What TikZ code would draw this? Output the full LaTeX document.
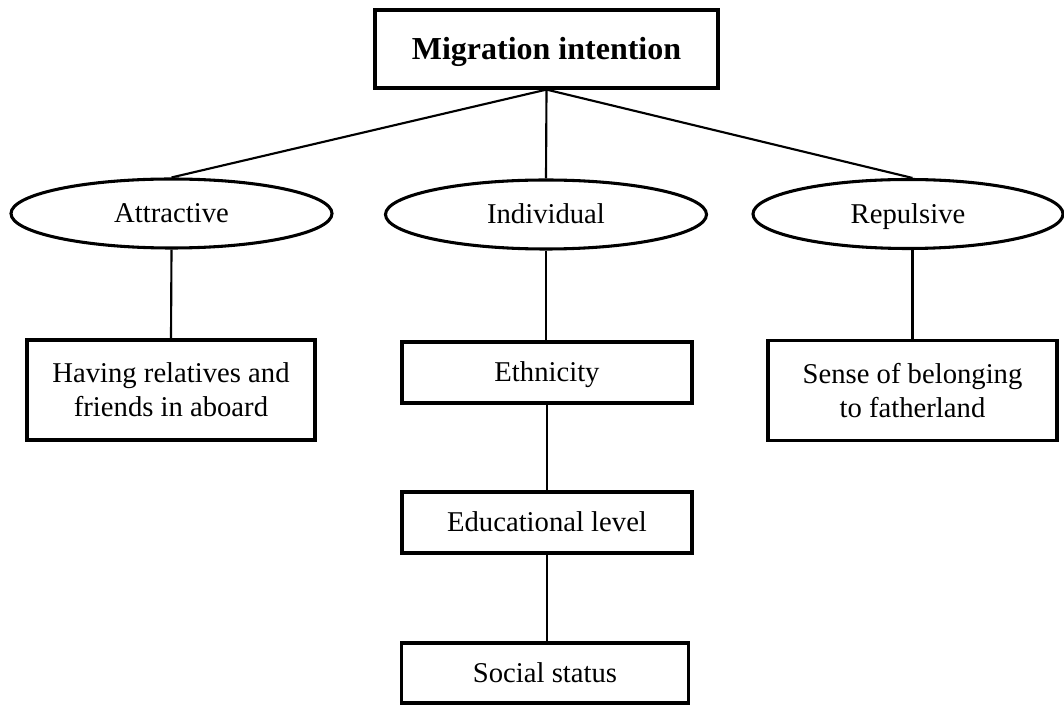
\documentclass[tikz,border=0pt]{standalone}
\usepackage{fontspec}
\setmainfont{Liberation Serif}
\usetikzlibrary{shapes.geometric}
\begin{document}
\begin{tikzpicture}[x=0.75pt,y=-0.75pt,
  every node/.style={font=\fontsize{21.5}{25.5}\selectfont, align=center, inner sep=0pt},
  oneline/.style={text height=16pt, text depth=1.8pt},
  boxnode/.style={draw, line width=2.4pt, rectangle},
  ellnode/.style={draw, line width=2.3pt, ellipse, oneline, minimum width=240.75pt, minimum height=51.75pt},
  conn/.style={line width=1.6pt}]
\useasboundingbox (0,0) rectangle (1064,705);
\node[boxnode, text height=18pt, text depth=2.1pt, minimum width=257.25pt, minimum height=58.5pt, font=\fontsize{24}{28}\selectfont\bfseries] (top) at (546.5,49) {Migration intention};
\node[ellnode] (lell) at (171.5,213.5) {Attractive};
\node[ellnode] (mell) at (546,214.5) {Individual};
\node[ellnode, minimum width=232.5pt] (rell) at (908,214) {Repulsive};
\node[boxnode, minimum width=216pt, minimum height=75pt] (lbox) at (171,390) {Having relatives and\\friends in aboard};
\node[boxnode, minimum width=216.75pt, minimum height=75pt] (rbox) at (912.5,390.5) {Sense of belonging\\to fatherland};
\node[boxnode, oneline, minimum width=217.5pt, minimum height=45.75pt] (eth) at (547,372.5) {Ethnicity};
\node[boxnode, oneline, minimum width=217.5pt, minimum height=45.75pt] (edu) at (547,522.5) {Educational level};
\node[boxnode, oneline, minimum width=215.25pt, minimum height=45pt] (soc) at (545,673) {Social status};
\draw[conn] (top.south) -- (lell.north);
\draw[conn] (top.south) -- (mell.north);
\draw[conn] (top.south) -- (rell.north -| rbox.north);
\draw[conn] (lell.south) -- (lbox.north);
\draw[conn] (mell.south) -- (mell.south |- eth.north);
\draw[conn] (rell.south -| rbox.north) -- (rbox.north);
\draw[conn] (eth.south) -- (edu.north);
\draw[conn] (edu.south) -- (soc.north -| edu.south);
\end{tikzpicture}
\end{document}
